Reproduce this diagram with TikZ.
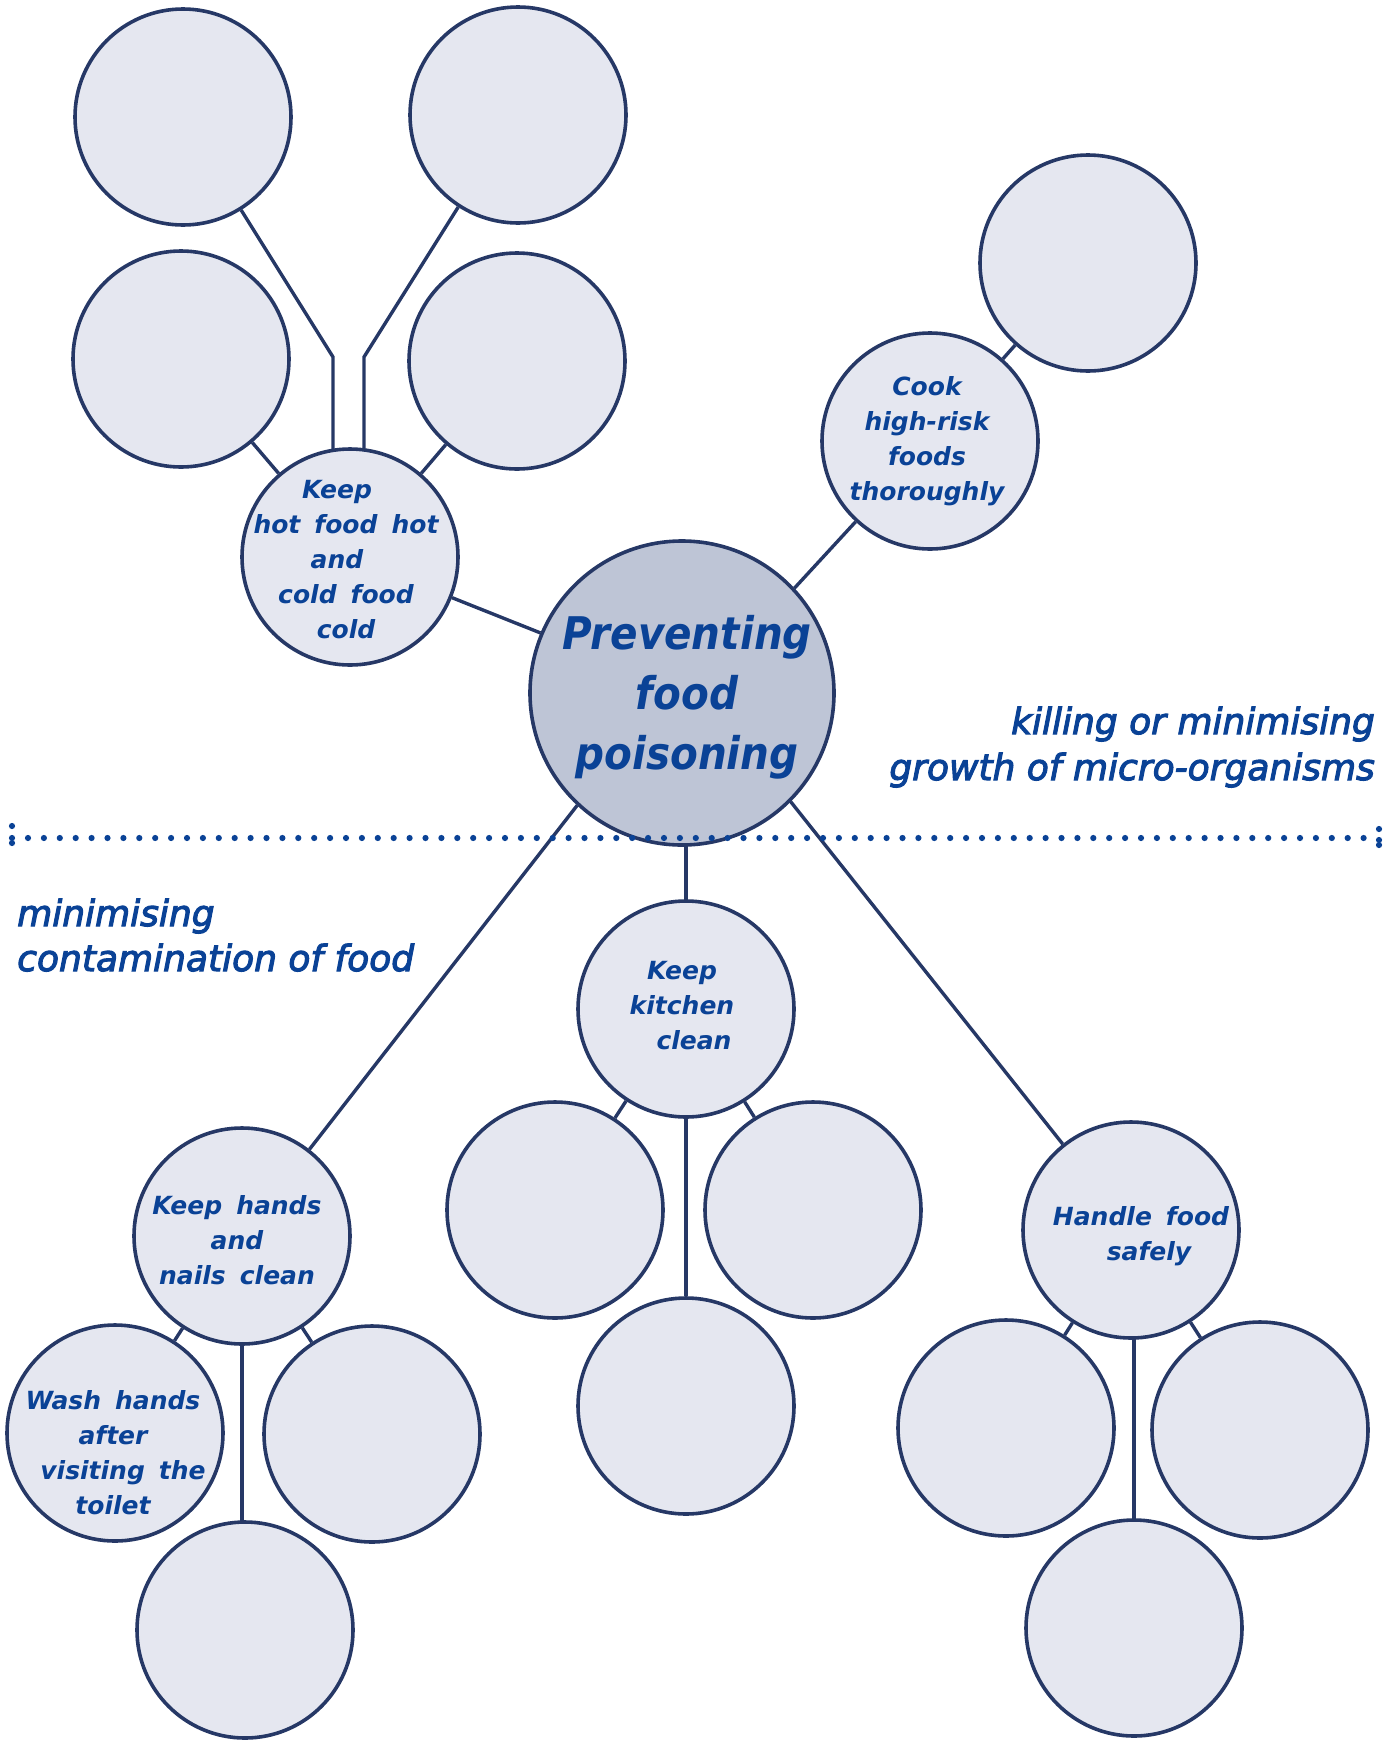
\documentclass[tikz,border=0pt]{standalone}
\usepackage{fontspec}
\usetikzlibrary{backgrounds}
\newfontfamily\labfont{DejaVu Sans Bold Oblique}
\newfontfamily\cenfont{DejaVu Sans Bold Oblique}[FakeStretch=0.9]
\newfontfamily\regfont{DejaVu Sans Oblique}[FakeBold=3]
\definecolor{lineblue}{RGB}{38,56,102}
\definecolor{bubfill}{RGB}{229,231,240}
\definecolor{hubfill}{RGB}{190,197,214}
\definecolor{txtblue}{RGB}{10,66,150}
\newcommand\wgap{\hskip 14pt\relax}
\tikzset{
  bub/.style={circle, draw=lineblue, line width=3.6pt, fill=bubfill, minimum size=216pt, inner sep=0pt},
  hub/.style={bub, fill=hubfill, minimum size=304pt},
  conn/.style={draw=lineblue, line width=3.4pt},
  lab/.style={text=txtblue, align=center, inner sep=0pt, font={\labfont\fontsize{25}{35}\selectfont}},
  cenlab/.style={text=txtblue, align=center, inner sep=0pt, font={\cenfont\fontsize{45}{60}\selectfont}},
  region/.style={text=txtblue, inner sep=0pt, font={\regfont\fontsize{36}{46}\selectfont}},
  dotmark/.style={fill=txtblue}
}
\begin{document}
\begin{tikzpicture}[x=1pt,y=-1pt]
\useasboundingbox (0,0) rectangle (1394,1740);

% hub
\node[hub] (c) at (682,693) {};

% keep hot food hot
\node[bub] (h) at (350,557) {};
\node[bub] (htl) at (183,117) {};
\node[bub] (htr) at (518,115) {};
\node[bub] (hml) at (181,359) {};
\node[bub] (hmr) at (517,361) {};

% cook
\node[bub] (k) at (930,441) {};
\node[bub] (ktr) at (1088,263) {};

% hands
\node[bub] (n) at (242,1236) {};
\node[bub] (w) at (115,1433) {};
\node[bub] (nr) at (372,1434) {};
\node[bub] (nb) at (245,1630) {};

% kitchen
\node[bub] (ki) at (686,1009) {};
\node[bub] (kil) at (555,1210) {};
\node[bub] (kir) at (813,1210) {};
\node[bub] (kib) at (686,1406) {};

% handle food
\node[bub] (f) at (1131,1230) {};
\node[bub] (fl) at (1006,1428) {};
\node[bub] (fr) at (1260,1430) {};
\node[bub] (fb) at (1134,1628) {};

\coordinate (b1) at (333,357);
\coordinate (b2) at (364,357);

\begin{scope}[on background layer]
  \draw[conn] (htl.302.5) -- (b1) -- (b1 |- h.center);
  \draw[conn] (htr.237.2) -- (b2) -- (b2 |- h.center);
  \draw[conn] (h) -- (hml);
  \draw[conn] (h) -- (hmr);
  \draw[conn] (c.157.4) -- (h);
  \draw[conn] (c.43.9) -- (k);
  \draw[conn] (k) -- (ktr);
  \draw[conn] (c.227.6) -- (n);
  \draw[conn] (c.315.3) -- (f);
  \draw[conn] (ki.center |- c.center) -- (ki.center);
  \draw[conn] (ki) -- (kil);
  \draw[conn] (ki) -- (kir);
  \draw[conn] (ki) -- (kib);
  \draw[conn] (n) -- (w);
  \draw[conn] (n) -- (nr);
  \draw[conn] (n.center) -- (n.center |- nb.center);
  \draw[conn] (f) -- (fl);
  \draw[conn] (f) -- (fr);
  \draw[conn] (fb.center |- f.center) -- (fb.center);
\end{scope}

% labels
\node[cenlab] (tc) at (687,697) {Preventing\\food\\poisoning};
\node[lab] (th) at (346,560) {Keep\kern18pt\\hot\wgap food\wgap hot\\and\kern18pt\\cold\wgap food\\cold};
\node[lab] (tk) at (927,441) {Cook\\high-risk\\foods\\thoroughly};
\node[lab] (tn) at (237,1240) {Keep\wgap hands\\and\\nails\wgap clean};
\node[lab] (tw) at (113,1453) {Wash\wgap hands\\after\\\kern20pt visiting\wgap the\\toilet};
\node[lab] (tki) at (682,1006) {Keep\\kitchen\\\kern24pt clean};
\node[lab] (tf) at (1141,1236) {Handle\wgap food\\\kern16pt safely};

% region labels
\node[region, anchor=base east] (r1) at (1375,734) {killing or minimising};
\node[region, anchor=base east] (r2) at (1375,780) {growth of micro-organisms};
\node[region, anchor=base west] (r3) at (17,926) {minimising};
\node[region, anchor=base west] (r4) at (17,971) {contamination of food};

% dotted divider
\foreach \i in {0,...,84} \fill[dotmark] ({28+\i*15.9},838) circle (3.1pt);
\fill[dotmark] (12,826) circle (3.1pt);
\fill[dotmark] (12,838) circle (3.1pt);
\fill[dotmark] (12,843) circle (3.1pt);
\fill[dotmark] (1379,829) circle (3.1pt);
\fill[dotmark] (1379,840) circle (3.1pt);
\fill[dotmark] (1379,845) circle (3.1pt);
\end{tikzpicture}
\end{document}
